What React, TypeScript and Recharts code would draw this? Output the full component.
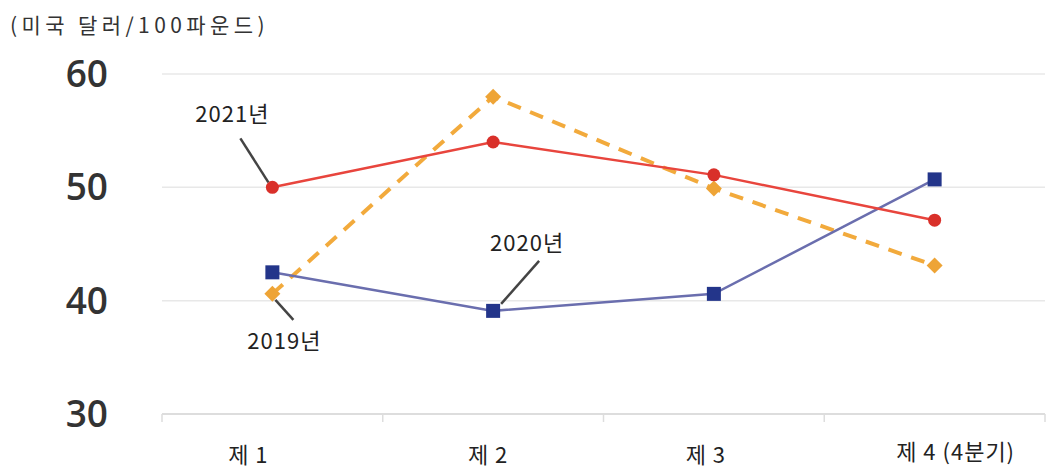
import { CartesianGrid, Line, LineChart, XAxis, YAxis } from 'recharts';

const quarters = ['제 1', '제 2', '제 3', '제 4 (4분기)'];
const y2019 = [40.6, 58.0, 49.9, 43.1];
const y2020 = [42.5, 39.1, 40.6, 50.7];
const y2021 = [50.0, 54.0, 51.1, 47.1];
const yTicks = [30, 40, 50, 60];

const data = quarters.map((q, i) => ({
  quarter: q,
  y2019: y2019[i],
  y2020: y2020[i],
  y2021: y2021[i],
}));

const KR_FONT = '"Noto Sans CJK KR", "Noto Sans", sans-serif';

// the source nudges its quarter labels a little off-centre
const tickNudgeX = [-24, -5, -8, 21];
const tickNudgeY = [39, 39, 39, 36];

// callout = text + leader line, offsets relative to the point
interface Callout {
  index: number;
  text: string;
  tx: number;
  ty: number;
  line: [number, number, number, number];
}

function Annotation({ cx, cy, c }: { cx: number; cy: number; c: Callout }) {
  const [x1, y1, x2, y2] = c.line;
  return (
    <g>
      <line x1={cx + x1} y1={cy + y1} x2={cx + x2} y2={cy + y2} stroke="#444" strokeWidth={2.5} />
      <text
        x={cx + c.tx}
        y={cy + c.ty}
        textAnchor="middle"
        dominantBaseline="central"
        fontFamily={KR_FONT}
        fontSize={22}
        letterSpacing={1}
        fill="#222"
      >
        {c.text}
      </text>
    </g>
  );
}

function makeDot(shape: 'circle' | 'square' | 'diamond', fill: string, callout?: Callout) {
  return (props: any) => {
    const { cx, cy, index } = props;
    if (cx == null || cy == null) return <g key={`d-${index}`} />;
    let mark;
    if (shape === 'circle') {
      mark = <circle cx={cx} cy={cy} r={6.5} fill={fill} />;
    } else if (shape === 'square') {
      mark = <rect x={cx - 7} y={cy - 7} width={14} height={14} fill={fill} />;
    } else {
      const s = 8;
      mark = (
        <polygon
          points={`${cx},${cy - s} ${cx + s},${cy} ${cx},${cy + s} ${cx - s},${cy}`}
          fill={fill}
        />
      );
    }
    return (
      <g key={`d-${index}`}>
        {mark}
        {callout && callout.index === index ? <Annotation cx={cx} cy={cy} c={callout} /> : null}
      </g>
    );
  };
}

// label at band centre, small tick marks at the band edges
function QuarterTick(props: any) {
  const { x, y, payload, index } = props;
  const half = payload.offset ?? 0;
  return (
    <g>
      <text
        x={x + (tickNudgeX[index] ?? 0)}
        y={y + (tickNudgeY[index] ?? 39)}
        textAnchor="middle"
        dominantBaseline="central"
        fontFamily={KR_FONT}
        fontSize={22}
        letterSpacing={1}
        fill="#222"
      >
        {payload.value}
      </text>
      <line x1={x - half} y1={y} x2={x - half} y2={y + 8} stroke="#ddd" strokeWidth={1.5} />
      {index === quarters.length - 1 ? (
        <line x1={x + half} y1={y} x2={x + half} y2={y + 8} stroke="#ddd" strokeWidth={1.5} />
      ) : null}
    </g>
  );
}

const call2021: Callout = { index: 0, text: '2021년', tx: -40, ty: -75, line: [-32, -49, -4, -5] };
const call2020: Callout = { index: 1, text: '2020년', tx: 34, ty: -70, line: [46, -50, 8, -7] };
const call2019: Callout = { index: 0, text: '2019년', tx: 12, ty: 45, line: [3, 6, 21, 26] };

export default function App() {
  return (
    <div
      style={{
        position: 'absolute',
        left: 0,
        top: 0,
        width: 1057,
        height: 468,
        background: '#fff',
        overflow: 'hidden',
      }}
    >
      <div
        style={{
          position: 'absolute',
          left: 10,
          top: 9,
          fontFamily: KR_FONT,
          fontSize: 21,
          letterSpacing: 4.4,
          color: '#333',
        }}
      >
        (미국 달러/100파운드)
      </div>
      <LineChart
        width={1057}
        height={468}
        data={data}
        margin={{ top: 74, right: 12, bottom: 0, left: 0 }}
      >
        <CartesianGrid horizontal vertical={false} stroke="#e8e8e8" strokeWidth={1.5} />
        <XAxis
          dataKey="quarter"
          scale="band"
          height={54}
          axisLine={{ stroke: '#ddd', strokeWidth: 2 }}
          tickLine={false}
          tickSize={0}
          tickMargin={0}
          tick={<QuarterTick />}
          interval={0}
        />
        <YAxis
          width={162}
          domain={[30, 60]}
          ticks={yTicks}
          axisLine={false}
          tickLine={false}
          tickSize={0}
          tickMargin={54}
          tick={{
            fontSize: 37,
            fontWeight: 600,
            fill: '#333',
            fontFamily: '"Open Sans", "Liberation Sans", Arial, sans-serif',
          }}
        />
        <Line
          dataKey="y2019"
          stroke="#f2aa3c"
          strokeWidth={4}
          strokeDasharray="14 10"
          dot={makeDot('diamond', '#eea436', call2019)}
          activeDot={false}
          isAnimationActive={false}
        />
        <Line
          dataKey="y2020"
          stroke="#6a6eae"
          strokeWidth={2.5}
          dot={makeDot('square', '#23358a', call2020)}
          activeDot={false}
          isAnimationActive={false}
        />
        <Line
          dataKey="y2021"
          stroke="#e8453d"
          strokeWidth={2.5}
          dot={makeDot('circle', '#d9302a', call2021)}
          activeDot={false}
          isAnimationActive={false}
        />
      </LineChart>
    </div>
  );
}
